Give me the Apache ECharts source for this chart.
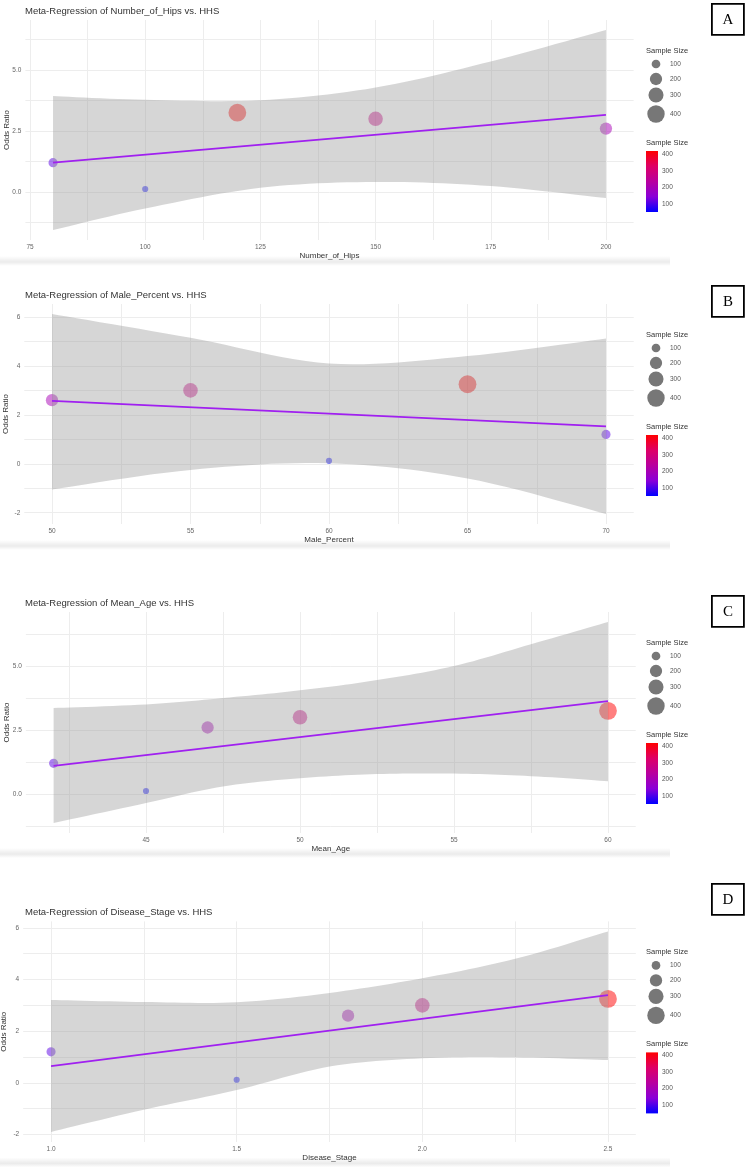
<!DOCTYPE html>
<html>
<head>
<meta charset="utf-8">
<script src="https://cdn.jsdelivr.net/npm/echarts@6/dist/echarts.min.js"></script>
<style>
html, body { margin: 0; padding: 0; background: #fff; }
#container { width: 746px; height: 1169px; }
</style>
</head>
<body>
<div id="container"></div>
<script>
// five studies, same order in every array
var oddsRatio = [1.2, 0.12, 3.25, 3.0, 2.6];
var sampleSize = [110, 50, 420, 280, 200];
var numberOfHips = [80, 100, 120, 150, 200];
var malePercent = [70, 60, 65, 55, 50];
var meanAge = [42, 45, 60, 50, 47];
var diseaseStage = [1.0, 1.5, 2.5, 2.0, 1.8];

// fitted line ends
var hipsFit = [[80, 1.2], [200, 3.16]];
var maleFit = [[50, 2.57], [70, 1.53]];
var ageFit = [[42, 1.1], [60, 3.63]];
var stageFit = [[1.0, 0.65], [2.5, 3.4]];

// confidence band edges
var hipsBandX = [80, 100, 125, 150, 175, 200];
var hipsBandUpper = [3.93, 3.78, 3.76, 4.28, 5.35, 6.64];
var hipsBandLower = [-1.56, -0.68, 0.17, 0.41, 0.24, -0.25];

var maleBandX = [50, 55, 60, 65, 70];
var maleBandUpper = [6.12, 5.15, 4.1, 4.4, 5.12];
var maleBandLower = [-1.05, -0.25, 0.02, -0.6, -2.05];

var ageBandX = [42, 45, 47.5, 50, 52.5, 55, 57.5, 60];
var ageBandUpper = [3.36, 3.5, 3.75, 4.05, 4.45, 5.0, 5.85, 6.72];
var ageBandLower = [-1.13, -0.35, 0.3, 0.62, 0.78, 0.8, 0.7, 0.5];

var stageBandX = [1.0, 1.25, 1.5, 1.75, 2.0, 2.25, 2.5];
var stageBandUpper = [3.21, 3.13, 3.12, 3.48, 4.05, 4.8, 5.86];
var stageBandLower = [-1.9, -1.04, -0.28, 0.63, 0.95, 0.99, 0.88];

// ticks and grid lines
var hipsTicks = [75, 100, 125, 150, 175, 200];
var hipsGrid = [75, 87.5, 100, 112.5, 125, 137.5, 150, 162.5, 175, 187.5, 200];
var maleTicks = [50, 55, 60, 65, 70];
var maleGrid = [50, 52.5, 55, 57.5, 60, 62.5, 65, 67.5, 70];
var ageTicks = [45, 50, 55, 60];
var ageGrid = [42.5, 45, 47.5, 50, 52.5, 55, 57.5, 60];
var stageTicks = [1.0, 1.5, 2.0, 2.5];
var stageGrid = [1.0, 1.25, 1.5, 1.75, 2.0, 2.25, 2.5];
var orTicksHalf = [0, 2.5, 5];
var orGridHalf = [-1.25, 0, 1.25, 2.5, 3.75, 5, 6.25];
var orTicksTwo = [-2, 0, 2, 4, 6];
var orGridTwo = [-2, -1, 0, 1, 2, 3, 4, 5, 6];

var legendSizes = [100, 200, 300, 400];
var sizeColors = ['#0000ff', '#8a00d8', '#b8009f', '#de0066', '#ff0000'];

var FONT = '"Liberation Sans", Arial, sans-serif';
var sMin = Math.min.apply(null, sampleSize);
var sMax = Math.max.apply(null, sampleSize);

function dotSize(n) { return 0.87 * Math.sqrt(n); }

var panels = [
  { title: 'Meta-Regression of Number_of_Hips vs. HHS', xName: 'Number_of_Hips', x: numberOfHips, fit: hipsFit,
    bandX: hipsBandX, bandUp: hipsBandUpper, bandLo: hipsBandLower, xMin: 74, xMax: 206, yMin: -1.97, yMax: 7.05,
    xTicks: hipsTicks, xGrid: hipsGrid, yTicks: orTicksHalf, yGrid: orGridHalf, xDec: 0, yDec: 1,
    letter: 'A', boxTop: 3, left: 25.4, top: 20, width: 608.2, height: 220 },
  { title: 'Meta-Regression of Male_Percent vs. HHS', xName: 'Male_Percent', x: malePercent, fit: maleFit,
    bandX: maleBandX, bandUp: maleBandUpper, bandLo: maleBandLower, xMin: 49, xMax: 71, yMin: -2.46, yMax: 6.53,
    xTicks: maleTicks, xGrid: maleGrid, yTicks: orTicksTwo, yGrid: orGridTwo, xDec: 0, yDec: 0,
    letter: 'B', boxTop: 285, left: 24.3, top: 304, width: 609.4, height: 220 },
  { title: 'Meta-Regression of Mean_Age vs. HHS', xName: 'Mean_Age', x: meanAge, fit: ageFit,
    bandX: ageBandX, bandUp: ageBandUpper, bandLo: ageBandLower, xMin: 41.1, xMax: 60.9, yMin: -1.52, yMax: 7.11,
    xTicks: ageTicks, xGrid: ageGrid, yTicks: orTicksHalf, yGrid: orGridHalf, xDec: 0, yDec: 1,
    letter: 'C', boxTop: 595, left: 25.9, top: 612, width: 609.8, height: 221 },
  { title: 'Meta-Regression of Disease_Stage vs. HHS', xName: 'Disease_Stage', x: diseaseStage, fit: stageFit,
    bandX: stageBandX, bandUp: stageBandUpper, bandLo: stageBandLower, xMin: 0.925, xMax: 2.575, yMin: -2.29, yMax: 6.25,
    xTicks: stageTicks, xGrid: stageGrid, yTicks: orTicksTwo, yGrid: orGridTwo, xDec: 1, yDec: 0,
    letter: 'D', boxTop: 883, left: 23.2, top: 921.4, width: 612.6, height: 220.6 }
];

// Catmull-Rom through the read edge points, in pixel space, for a smooth band outline
function spline(pts) {
  var out = [];
  for (var i = 0; i < pts.length - 1; i++) {
    var p0 = pts[Math.max(i - 1, 0)], p1 = pts[i], p2 = pts[i + 1], p3 = pts[Math.min(i + 2, pts.length - 1)];
    for (var s = 0; s < 12; s++) {
      var t = s / 12, t2 = t * t, t3 = t2 * t;
      var pt = [0, 1].map(function (d) {
        return 0.5 * (2 * p1[d] + (-p0[d] + p2[d]) * t + (2 * p0[d] - 5 * p1[d] + 4 * p2[d] - p3[d]) * t2 +
          (-p0[d] + 3 * p1[d] - 3 * p2[d] + p3[d]) * t3);
      });
      out.push(pt);
    }
  }
  out.push(pts[pts.length - 1]);
  return out;
}

function fmt(dec) { return function (v) { return Number(v).toFixed(dec); }; }

var option = {
  animation: false,
  backgroundColor: '#ffffff',
  textStyle: { fontFamily: FONT },
  title: [], grid: [], xAxis: [], yAxis: [], series: [], graphic: [],
  visualMap: {
    type: 'continuous', show: false, min: sMin, max: sMax, dimension: 2,
    seriesIndex: [], inRange: { color: sizeColors }
  }
};

panels.forEach(function (p, i) {
  option.title.push({
    text: p.title, left: 25, top: p.top - 14, padding: 0,
    textStyle: { fontSize: 9.5, fontWeight: 'normal', color: '#333', fontFamily: FONT }
  });
  option.grid.push({ left: p.left, top: p.top, width: p.width, height: p.height, containLabel: false, outerBoundsMode: 'none' });
  option.xAxis.push({
    type: 'value', gridIndex: i, min: p.xMin, max: p.xMax,
    name: p.xName, nameLocation: 'middle', nameGap: 11,
    nameTextStyle: { fontSize: 8, color: '#333', fontFamily: FONT },
    axisLine: { show: false },
    axisTick: { show: false, customValues: p.xGrid },
    splitLine: { show: true, lineStyle: { color: '#ededed', width: 1 } },
    axisLabel: { customValues: p.xTicks, margin: 4, fontSize: 6.5, color: '#666', fontFamily: FONT, formatter: fmt(p.xDec) }
  });
  option.yAxis.push({
    type: 'value', gridIndex: i, min: p.yMin, max: p.yMax,
    name: 'Odds Ratio', nameLocation: 'middle', nameGap: 15, nameRotate: 90, nameMoveOverlap: false,
    nameTextStyle: { fontSize: 8, color: '#333', fontFamily: FONT },
    axisLine: { show: false },
    axisTick: { show: false, customValues: p.yGrid },
    splitLine: { show: true, lineStyle: { color: '#ededed', width: 1 } },
    axisLabel: { customValues: p.yTicks, margin: 4, fontSize: 6.5, color: '#666', fontFamily: FONT, formatter: fmt(p.yDec) }
  });

  option.visualMap.seriesIndex.push(option.series.length);
  option.series.push({
    type: 'scatter', xAxisIndex: i, yAxisIndex: i, z: 2, silent: true,
    data: p.x.map(function (x, k) { return [x, oddsRatio[k], sampleSize[k]]; }),
    symbolSize: function (d) { return dotSize(d[2]); },
    itemStyle: { opacity: 0.5 }
  });
  // band and fit line sit on a layer above the points, like the smoother drawn over them
  option.series.push({
    type: 'custom', xAxisIndex: i, yAxisIndex: i, zlevel: 1, z: 3, silent: true,
    data: [[p.bandX[0], p.bandUp[0]]],
    renderItem: function (params, api) {
      var top = p.bandX.map(function (x, k) { return api.coord([x, p.bandUp[k]]); });
      var bot = p.bandX.map(function (x, k) { return api.coord([x, p.bandLo[k]]); }).reverse();
      return {
        type: 'polygon',
        shape: { points: spline(top).concat(spline(bot)) },
        style: { fill: 'rgba(153,153,153,0.4)' }
      };
    }
  });
  option.series.push({
    type: 'line', xAxisIndex: i, yAxisIndex: i, zlevel: 1, z: 4, silent: true,
    data: p.fit, showSymbol: false, symbol: 'none',
    lineStyle: { color: '#a020f0', width: 1.8 }
  });

  // letter box
  option.graphic.push({
    type: 'group', left: 711, top: p.boxTop,
    children: [
      { type: 'rect', shape: { x: 0, y: 0, width: 32, height: 31 }, style: { fill: '#fff', stroke: '#000', lineWidth: 1.8 } },
      { type: 'text', x: 16, y: 16, style: { text: p.letter, fill: '#000', font: '15px "Liberation Serif", "Times New Roman", serif', align: 'center', verticalAlign: 'middle' } }
    ]
  });

  // size legend
  var T = p.top;
  var keyY = [44, 59, 75, 94];
  option.graphic.push({ type: 'text', x: 646, y: T + 31, style: { text: 'Sample Size', fill: '#333', font: '7.5px ' + FONT, verticalAlign: 'middle' } });
  legendSizes.forEach(function (v, k) {
    option.graphic.push({ type: 'circle', shape: { cx: 656, cy: T + keyY[k], r: dotSize(v) / 2 }, style: { fill: '#777' } });
    option.graphic.push({ type: 'text', x: 670, y: T + keyY[k], style: { text: String(v), fill: '#555', font: '6.5px ' + FONT, verticalAlign: 'middle' } });
  });

  // colour bar
  var barTop = T + 131, barH = 61;
  option.graphic.push({ type: 'text', x: 646, y: T + 123, style: { text: 'Sample Size', fill: '#333', font: '7.5px ' + FONT, verticalAlign: 'middle' } });
  option.graphic.push({
    type: 'rect', shape: { x: 646, y: barTop, width: 12, height: barH },
    style: {
      fill: new echarts.graphic.LinearGradient(0, 1, 0, 0, sizeColors.map(function (c, k) {
        return { offset: k / (sizeColors.length - 1), color: c };
      }))
    }
  });
  legendSizes.forEach(function (v) {
    var y = barTop + (sMax - v) / (sMax - sMin) * barH;
    option.graphic.push({ type: 'text', x: 662, y: y, style: { text: String(v), fill: '#555', font: '6.5px ' + FONT, verticalAlign: 'middle' } });
  });

  // soft shadow under each panel
  option.graphic.push({
    type: 'rect', shape: { x: 0, y: T + 236, width: 670, height: 10 },
    style: {
      fill: new echarts.graphic.LinearGradient(0, 0, 0, 1, [
        { offset: 0, color: 'rgba(0,0,0,0)' },
        { offset: 0.6, color: 'rgba(0,0,0,0.08)' },
        { offset: 1, color: 'rgba(0,0,0,0)' }
      ])
    }
  });
});

var myChart = echarts.init(document.getElementById('container'));
myChart.setOption(option);
</script>
</body>
</html>
